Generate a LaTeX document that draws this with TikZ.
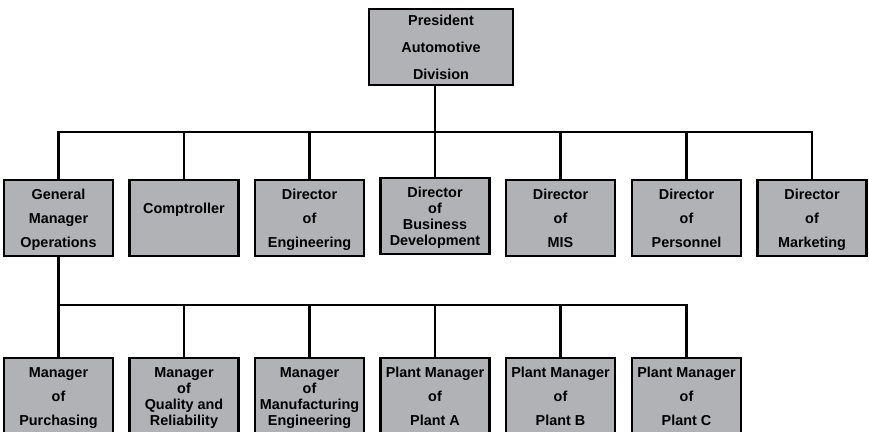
\documentclass[tikz,border=0pt]{standalone}
\usepackage{fontspec}
\setmainfont{Liberation Sans}
\definecolor{boxgrey}{RGB}{177,178,181}
\newcommand{\mydstrut}{\vrule height 0pt depth 3.1pt width 0pt}
\newcommand{\myhstrut}{\vrule height 13.4pt depth 0pt width 0pt}
\begin{document}
\begin{tikzpicture}[x=1pt,y=-1pt,
  orgbox/.style={draw=black,line width=2.3pt,fill=boxgrey,minimum width=109pt,minimum height=76pt,inner sep=0pt,align=center,font=\fontsize{14.4}{24}\selectfont\bfseries},
  tight/.style={font=\fontsize{14.4}{16}\selectfont\bfseries},
  conn/.style={line width=2.2pt}]
\useasboundingbox (0,0) rectangle (869,431);
\node[orgbox,minimum width=144pt,font=\fontsize{14.4}{27}\selectfont\bfseries] (top) at (441,47) {\myhstrut President\\Automotive\\Division\mydstrut};
\node[orgbox] (d1) at (58.5,218) {\myhstrut General\\Manager\\Operations\mydstrut};
\node[orgbox,font=\fontsize{14.4}{20}\selectfont\bfseries] (d2) at (184,218) {\myhstrut Comptroller\\\phantom{X}\mydstrut};
\node[orgbox] (d3) at (309.5,218) {\myhstrut Director\\of\\Engineering\mydstrut};
\node[orgbox,tight] (d4) at (435,216) {\myhstrut Director\\of\\Business\\Development\mydstrut};
\node[orgbox] (d5) at (560.5,218) {\myhstrut Director\\of\\MIS\mydstrut};
\node[orgbox] (d6) at (686.5,218) {\myhstrut Director\\of\\Personnel\mydstrut};
\node[orgbox] (d7) at (812,218) {\myhstrut Director\\of\\Marketing\mydstrut};
\node[orgbox] (m1) at (58.5,396) {\myhstrut Manager\\of\\Purchasing\mydstrut};
\node[orgbox,tight] (m2) at (184,396) {\myhstrut Manager\\of\\Quality and\\Reliability\mydstrut};
\node[orgbox,tight] (m3) at (309.5,396) {\myhstrut Manager\\of\\Manufacturing\\Engineering\mydstrut};
\node[orgbox] (m4) at (435,396) {\myhstrut Plant Manager\\of\\Plant A\mydstrut};
\node[orgbox] (m5) at (560.5,396) {\myhstrut Plant Manager\\of\\Plant B\mydstrut};
\node[orgbox] (m6) at (686.5,396) {\myhstrut Plant Manager\\of\\Plant C\mydstrut};
\coordinate (bus) at (0,132);
\coordinate (bus2) at (0,305);
\draw[conn] (top.south -| d4.north) -- (d4.north);
\draw[conn] (d1.north) -- (d1.north |- bus) -- (d7.north |- bus) -- (d7.north);
\foreach \n in {d2,d3,d5,d6} \draw[conn] (\n.north) -- (\n.north |- bus);
\draw[conn] (d1.south) -- (m1.north);
\draw[conn] (m1.north |- bus2) -- (m6.north |- bus2) -- (m6.north);
\foreach \n in {m2,m3,m4,m5} \draw[conn] (\n.north) -- (\n.north |- bus2);
\end{tikzpicture}
\end{document}
